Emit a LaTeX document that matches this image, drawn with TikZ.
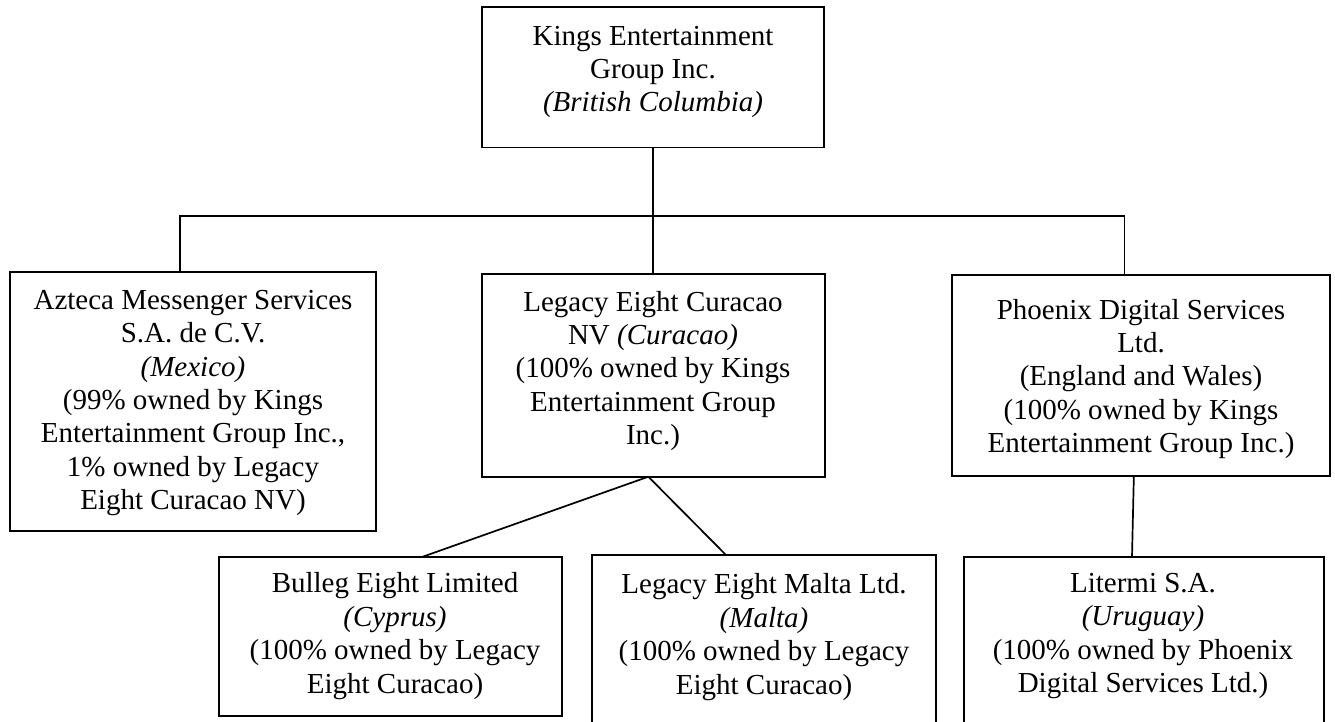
\documentclass[tikz,border=0pt]{standalone}
\usepackage{fontspec}
\setmainfont{Liberation Serif}
\usetikzlibrary{calc}
\begin{document}
\begin{tikzpicture}[x=1pt,y=-1pt,
  box/.style={draw, line width=1.7pt, inner sep=0pt, outer sep=0pt},
  txt/.style={align=center, inner sep=0pt, font=\fontsize{29}{33.4}\selectfont},
  conn/.style={line width=1.7pt}]
\useasboundingbox (0,0) rectangle (1335,721);
\fill[white] (0,0) rectangle (1335,721);
\begin{scope}
\clip (0,0) rectangle (1335,721);
% boxes
\node[box, minimum width=342.3pt, minimum height=140.5pt] (kings) at (652.85,77.25) {};
\node[box, minimum width=365.7pt, minimum height=259.3pt] (az) at (192.85,401.35) {};
\node[box, minimum width=343.3pt, minimum height=202.7pt] (mid) at (653.35,375.35) {};
\node[box, minimum width=378.3pt, minimum height=201pt] (ph) at (1140.85,375.5) {};
\node[box, minimum width=343pt, minimum height=159.3pt] (bul) at (390.8,636.35) {};
\node[box, minimum width=343.4pt, minimum height=200pt] (mal) at (764,655) {};
\node[box, minimum width=360pt, minimum height=200pt] (lit) at (1144,656.7) {};
% texts
\node[txt] (kingsT) at (653,72) {Kings Entertainment\\Group Inc.\\\textit{(British Columbia)}};
\node[txt] (azT) at (193,403) {Azteca Messenger Services\\S.A. de C.V.\\\textit{(Mexico)}\\(99\% owned by Kings\\Entertainment Group Inc.,\\1\% owned by Legacy\\Eight Curacao NV)};
\node[txt] (midT) at (653,371) {Legacy Eight Curacao\\NV \textit{(Curacao)}\\(100\% owned by Kings\\Entertainment Group\\Inc.)};
\node[txt] (phT) at (1141,379) {Phoenix Digital Services\\Ltd.\\(England and Wales)\\(100\% owned by Kings\\Entertainment Group Inc.)};
\node[txt] (bulT) at (395,636) {Bulleg Eight Limited\\\textit{(Cyprus)}\\(100\% owned by Legacy\\Eight Curacao)};
\node[txt] (malT) at (764,637) {Legacy Eight Malta Ltd.\\\textit{(Malta)}\\(100\% owned by Legacy\\Eight Curacao)};
\node[txt] (litT) at (1143,636) {Litermi S.A.\\\textit{(Uruguay)}\\(100\% owned by Phoenix\\Digital Services Ltd.)};
% connectors
\draw[conn] (kings.south) -- ++(0,68.5) coordinate (j);
\draw[conn] ($(az.north)+(-13,0)$) |- (j) -| ($(ph.north)+(-16.5,0)$);
\draw[conn] (j) -- (j |- mid.north);
\draw[conn] ($(mid.south)+(-5,0)$) -- ($(bul.north)+(32,0)$);
\draw[conn] ($(mid.south)+(-5,0)$) -- ($(mal.north)+(-38,0)$);
\draw[conn] ($(ph.south)+(-7,0)$) -- ($(lit.north)+(-12,0)$);
\end{scope}
\end{tikzpicture}
\end{document}
